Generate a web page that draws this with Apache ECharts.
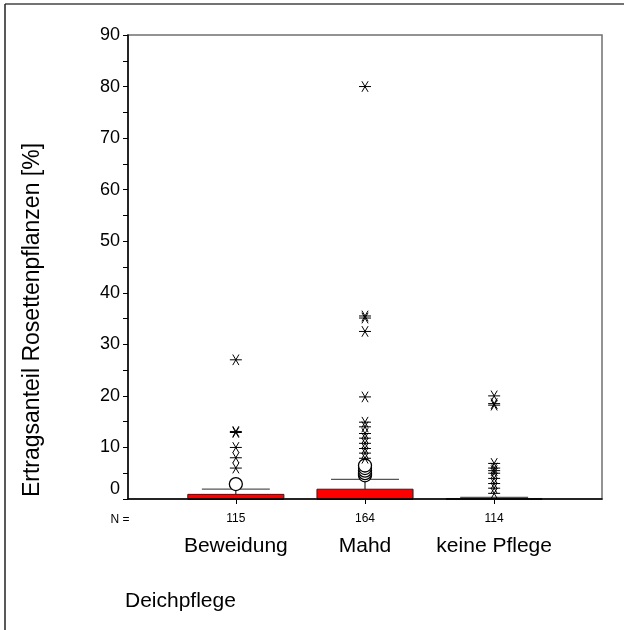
<!DOCTYPE html>
<html>
<head>
<meta charset="utf-8">
<script src="https://cdn.jsdelivr.net/npm/echarts@6/dist/echarts.min.js"></script>
<style>
  html, body { margin: 0; padding: 0; background: #fff; }
  #chart { width: 624px; height: 630px; }
</style>
</head>
<body>
<div id="chart"></div>
<script>
// Groups along the x axis
const categories = ['Beweidung', 'Mahd', 'keine Pflege'];
const groupN = [115, 164, 114];
const positions = [1, 2, 3];

// Box statistics per group: lower whisker, Q1, median, Q3, upper whisker
const lowerWhisker = [0, 0, 0];
const quartile1 = [0, 0, 0];
const medians = [0, 0, 0];
const quartile3 = [0.9, 1.9, 0.1];
const upperWhisker = [1.9, 3.8, 0.3];

// Outliers (circles) and extreme values (asterisks) per group
const outliersBeweidung = [2.9];
const outliersMahd = [4.6, 5.0, 5.5, 6.0, 6.5];
const outliersKeinePflege = [];
const extremesBeweidung = [6.0, 8.0, 10.0, 12.9, 13.1, 27.0];
const extremesMahd = [7.9, 8.9, 9.8, 10.8, 11.8, 12.7, 14.0, 14.9, 19.8, 32.5, 35.1, 35.5, 80.0];
const extremesKeinePflege = [1.1, 2.1, 3.0, 4.0, 5.0, 5.5, 6.0, 6.9, 18.2, 18.5, 20.0];

// Y axis range
const yMin = 0, yMax = 90, yStep = 10;

const FONT = '"Liberation Sans", Arial, sans-serif';

const boxData = positions.map((p, i) => [p, lowerWhisker[i], quartile1[i], medians[i], quartile3[i], upperWhisker[i]]);

function pairs(pos, vals) { return vals.map(v => [pos, v]); }
const outlierData = [].concat(
  pairs(positions[0], outliersBeweidung),
  pairs(positions[1], outliersMahd),
  pairs(positions[2], outliersKeinePflege)
);
const extremeData = [].concat(
  pairs(positions[0], extremesBeweidung),
  pairs(positions[1], extremesMahd),
  pairs(positions[2], extremesKeinePflege)
);

const HALF_BOX = 0.372;
const HALF_CAP = 0.263;

function renderBox(params, api) {
  const x = api.value(0);
  const lw = api.value(1), q1 = api.value(2), med = api.value(3), q3 = api.value(4), uw = api.value(5);
  const tl = api.coord([x - HALF_BOX, q3]);
  const br = api.coord([x + HALF_BOX, q1]);
  const mid = api.coord([x, q3]);
  const top = api.coord([x, uw]);
  const capL = api.coord([x - HALF_CAP, uw]);
  const capR = api.coord([x + HALF_CAP, uw]);
  const bot = api.coord([x, lw]);
  const q1p = api.coord([x, q1]);
  const medL = api.coord([x - HALF_BOX, med]);
  const medR = api.coord([x + HALF_BOX, med]);
  return {
    type: 'group',
    children: [
      { type: 'line', shape: { x1: mid[0], y1: mid[1], x2: top[0], y2: top[1] }, style: { stroke: '#000', lineWidth: 1 } },
      { type: 'line', shape: { x1: q1p[0], y1: q1p[1], x2: bot[0], y2: bot[1] }, style: { stroke: '#000', lineWidth: 1 } },
      { type: 'line', shape: { x1: capL[0], y1: capL[1], x2: capR[0], y2: capR[1] }, style: { stroke: '#555', lineWidth: 1.2 } },
      { type: 'rect', shape: { x: tl[0], y: tl[1], width: br[0] - tl[0], height: Math.max(br[1] - tl[1], 1) },
        style: { fill: '#ff0000', stroke: '#222', lineWidth: 1 } },
      { type: 'line', shape: { x1: medL[0], y1: medL[1], x2: medR[0], y2: medR[1] }, style: { stroke: '#000', lineWidth: 1.5 } }
    ]
  };
}

function renderStar(params, api) {
  const p = api.coord([api.value(0), api.value(1)]);
  const hw = 6, dx = 3.1, dy = 5.3;
  const st = { stroke: '#000', lineWidth: 1 };
  return {
    type: 'group',
    children: [
      { type: 'line', shape: { x1: p[0] - hw, y1: p[1], x2: p[0] + hw, y2: p[1] }, style: st },
      { type: 'line', shape: { x1: p[0] - dx, y1: p[1] - dy, x2: p[0] + dx, y2: p[1] + dy }, style: st },
      { type: 'line', shape: { x1: p[0] + dx, y1: p[1] - dy, x2: p[0] - dx, y2: p[1] + dy }, style: st }
    ]
  };
}

const chart = echarts.init(document.getElementById('chart'), null, { renderer: 'canvas' });

chart.setOption({
  backgroundColor: '#fff',
  animation: false,
  grid: {
    left: 128, right: 22, top: 35, bottom: 131,
    show: true, borderColor: '#707070', borderWidth: 1.5, backgroundColor: 'transparent'
  },
  xAxis: {
    type: 'value',
    min: 0.165, max: 3.835,
    splitLine: { show: false },
    axisLine: { show: true, onZero: false, lineStyle: { color: '#000', width: 1.5 } },
    axisTick: { show: true, customValues: positions, length: 5, lineStyle: { color: '#000' } },
    axisLabel: {
      show: true,
      customValues: positions,
      margin: 8,
      formatter: function (v) {
        const i = Math.round(v) - 1;
        return '{n|' + groupN[i] + '}\n{c|' + categories[i] + '}';
      },
      rich: {
        n: { fontFamily: FONT, fontSize: 12, lineHeight: 24, color: '#000' },
        c: { fontFamily: FONT, fontSize: 21, lineHeight: 30, color: '#000' }
      }
    }
  },
  yAxis: {
    type: 'value',
    min: yMin, max: yMax, interval: yStep,
    splitLine: { show: false },
    axisLine: { show: true, lineStyle: { color: '#000', width: 1.5 } },
    axisTick: { show: true, length: 5, lineStyle: { color: '#000' } },
    minorTick: { show: true, splitNumber: 2, length: 5, lineStyle: { color: '#000' } },
    axisLabel: {
      margin: 8,
      formatter: function (v) { return v === 0 ? '{z|0}' : '{t|' + v + '}'; },
      rich: {
        t: { fontFamily: FONT, fontSize: 18, color: '#000' },
        z: { fontFamily: FONT, fontSize: 18, color: '#000', padding: [0, 0, 20, 0] }
      }
    }
  },
  series: [
    {
      type: 'custom',
      name: 'box',
      renderItem: renderBox,
      data: boxData,
      encode: { x: 0, y: [1, 2, 3, 4, 5] },
      z: 2
    },
    {
      type: 'scatter',
      name: 'outliers',
      data: outlierData,
      symbol: 'circle',
      symbolSize: 13,
      itemStyle: { color: '#fff', borderColor: '#000', borderWidth: 1.3, opacity: 1 },
      z: 3
    },
    {
      type: 'custom',
      name: 'extremes',
      renderItem: renderStar,
      data: extremeData,
      encode: { x: 0, y: 1 },
      z: 4
    }
  ],
  graphic: [
    { type: 'line', shape: { x1: 5, y1: 4, x2: 624, y2: 4 }, style: { stroke: '#444', lineWidth: 1.5 }, silent: true },
    { type: 'line', shape: { x1: 5, y1: 4, x2: 5, y2: 630 }, style: { stroke: '#222', lineWidth: 1.5 }, silent: true },
    { type: 'text', x: 120, y: 520, style: { text: 'N =', font: '12px ' + FONT, fill: '#000', textAlign: 'center', textVerticalAlign: 'middle' } },
    { type: 'text', x: 33, y: 320, rotation: Math.PI / 2,
      style: { text: 'Ertragsanteil Rosettenpflanzen [%]', font: '23px ' + FONT, fill: '#000', textAlign: 'center', textVerticalAlign: 'middle' } },
    { type: 'text', x: 125, y: 601, style: { text: 'Deichpflege', font: '21px ' + FONT, fill: '#000', textAlign: 'left', textVerticalAlign: 'middle' } }
  ]
});
</script>
</body>
</html>
